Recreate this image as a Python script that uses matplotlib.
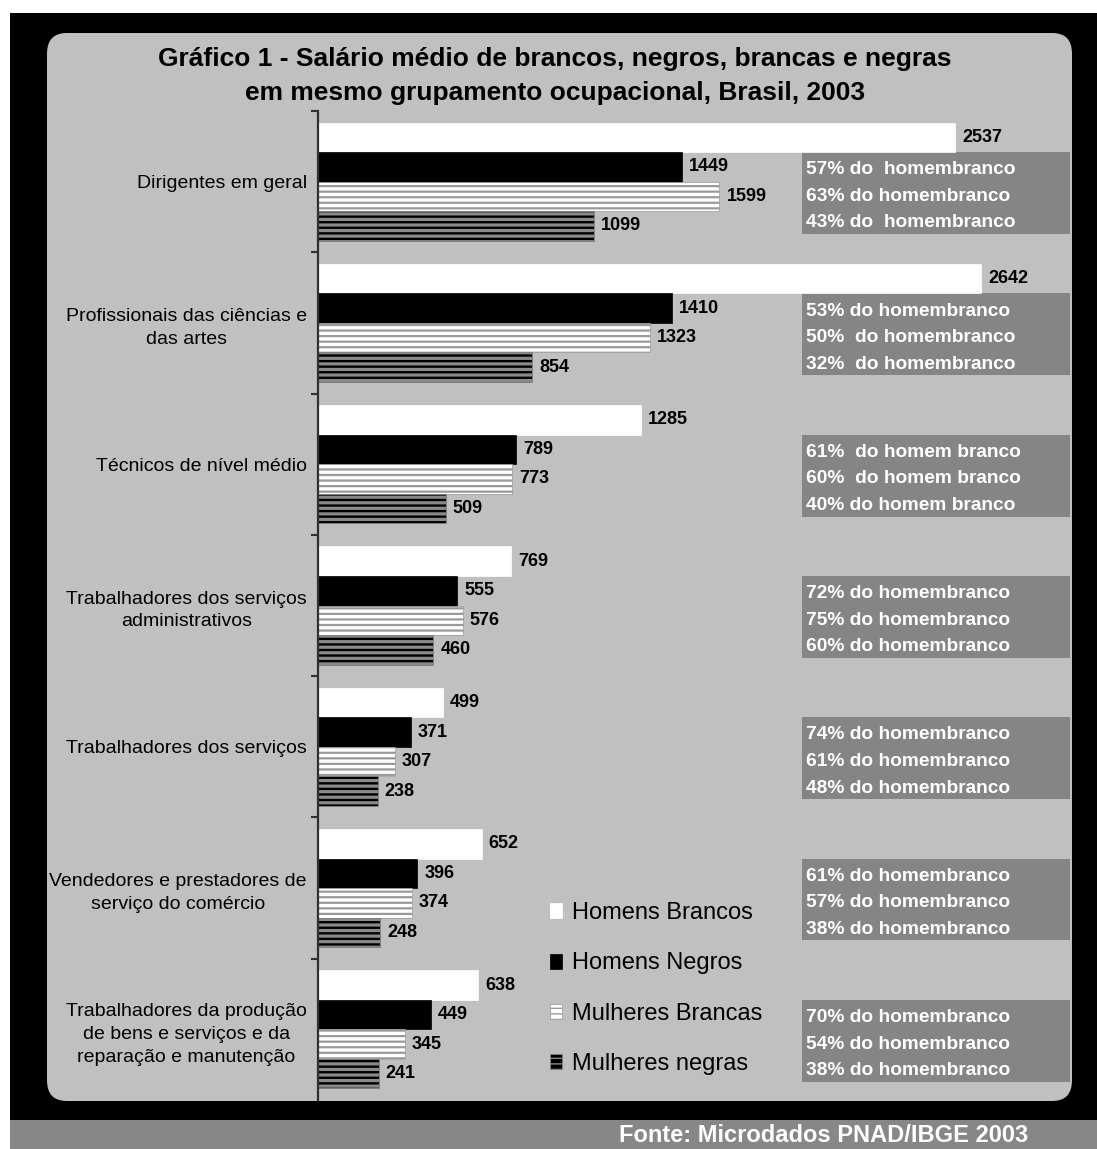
import matplotlib
matplotlib.use('Agg')
import matplotlib.pyplot as plt
from matplotlib.patches import Rectangle, FancyBboxPatch

plt.rcParams['font.family'] = ['Liberation Sans', 'DejaVu Sans']

# dados
categorias = ['Dirigentes em geral',
              'Profissionais das ciências e\ndas artes',
              'Técnicos de nível médio',
              'Trabalhadores dos serviços\nadministrativos',
              'Trabalhadores dos serviços',
              'Vendedores e prestadores de\nserviço do comércio',
              'Trabalhadores da produção\nde bens e serviços e da\nreparação e manutenção']
homens_brancos = [2537, 2642, 1285, 769, 499, 652, 638]
homens_negros = [1449, 1410, 789, 555, 371, 396, 449]
mulheres_brancas = [1599, 1323, 773, 576, 307, 374, 345]
mulheres_negras = [1099, 854, 509, 460, 238, 248, 241]
series_nomes = ['Homens Brancos', 'Homens Negros', 'Mulheres Brancas', 'Mulheres negras']
percentuais = [
    ['57% do  homembranco', '63% do homembranco', '43% do  homembranco'],
    ['53% do homembranco', '50%  do homembranco', '32%  do homembranco'],
    ['61%  do homem branco', '60%  do homem branco', '40% do homem branco'],
    ['72% do homembranco', '75% do homembranco', '60% do homembranco'],
    ['74% do homembranco', '61% do homembranco', '48% do homembranco'],
    ['61% do homembranco', '57% do homembranco', '38% do homembranco'],
    ['70% do homembranco', '54% do homembranco', '38% do homembranco'],
]

W, H = 1097, 1149
fig = plt.figure(figsize=(W / 100, H / 100), dpi=100)
fig.patch.set_facecolor('white')


def fx(px):
    return px / W


def fy(py):
    return 1 - py / H


# moldura preta, painel cinza e rodapé
fig.patches.append(Rectangle((fx(10), fy(1120)), fx(1087), 1107 / H,
                             transform=fig.transFigure, facecolor='black', edgecolor='none', zorder=-3))
fig.patches.append(FancyBboxPatch((fx(47), fy(1101)), fx(1025), 1068 / H,
                                  boxstyle='round,pad=0,rounding_size=0.018',
                                  transform=fig.transFigure, facecolor='#c0c0c0', edgecolor='none', zorder=-2))
fig.patches.append(Rectangle((fx(10), 0), fx(1087), 29 / H,
                             transform=fig.transFigure, facecolor='#878787', edgecolor='none', zorder=-2))
fig.text(fx(1028), fy(1136), 'Fonte: Microdados PNAD/IBGE 2003', color='white',
         fontsize=17, fontweight='bold', ha='right', va='center')

fig.text(fx(555), fy(59), 'Gráfico 1 - Salário médio de brancos, negros, brancas e negras',
         fontsize=19, fontweight='bold', ha='center', va='center')
fig.text(fx(555), fy(93), 'em mesmo grupamento ocupacional, Brasil, 2003',
         fontsize=19, fontweight='bold', ha='center', va='center')

ax = fig.add_axes([fx(318), fy(1100), fx(755), 989 / H])
ax.set_facecolor('none')
ax.set_zorder(2)

n = len(categorias)
h = 0.209
ys = list(range(n))
estilos = [
    dict(color='white', edgecolor='white', linewidth=0.5),
    dict(color='black', edgecolor='black', linewidth=0.5),
    dict(color='white', edgecolor='#9a9a9a', hatch='---', linewidth=0.5),
    dict(color='black', edgecolor='#8a8a8a', hatch='---', linewidth=0.5),
]
espessura_hachura = [1.6, 1.6, 1.6, 2.3]
valores = [homens_brancos, homens_negros, mulheres_brancas, mulheres_negras]
barras = []
for k, (vals, est, nome) in enumerate(zip(valores, estilos, series_nomes)):
    pos = [y + (k - 1.5) * h for y in ys]
    with plt.rc_context({'hatch.linewidth': espessura_hachura[k]}):
        b = ax.barh(pos, vals, height=h, label=nome, zorder=2, **est)
    barras.append(b)
    for p, v in zip(pos, vals):
        ax.annotate(str(v), (v, p), xytext=(5, 0), textcoords='offset points',
                    ha='left', va='center', fontsize=13, fontweight='bold')

# caixas com percentuais
for i, linhas in enumerate(percentuais):
    topo = i - h
    ax.add_patch(Rectangle((1927, topo), 1068, 0.58, facecolor='#858585',
                           edgecolor='none', zorder=1))
    for k, t in enumerate(linhas):
        ax.text(1945, topo + 0.125 + k * 0.188, t, color='white', fontsize=13.8,
                fontweight='bold', ha='left', va='center', zorder=3)

ax.set_xlim(0, 3007)
ax.set_ylim(n - 0.5, -0.5)
for s in ['top', 'right', 'bottom']:
    ax.spines[s].set_visible(False)
ax.spines['left'].set_color('#303030')
ax.spines['left'].set_linewidth(1.6)
ax.set_xticks([])
ax.set_yticks(ys)
ax.set_yticklabels(categorias, fontsize=14, multialignment='center', linespacing=1.45)
ax.tick_params(axis='y', which='major', length=0, pad=8)
ax.set_yticks([i - 0.5 for i in range(n)], minor=True)
ax.tick_params(axis='y', which='minor', length=5, width=1.5, color='#303030')

ax.legend(handles=barras, loc='upper left', bbox_to_anchor=(fx(550), fy(902)),
          bbox_transform=fig.transFigure, frameon=False, fontsize=17,
          handlelength=0.52, handleheight=0.6, handletextpad=0.42,
          labelspacing=1.2, borderpad=0, borderaxespad=0)

fig.savefig('out.png', dpi=100)
